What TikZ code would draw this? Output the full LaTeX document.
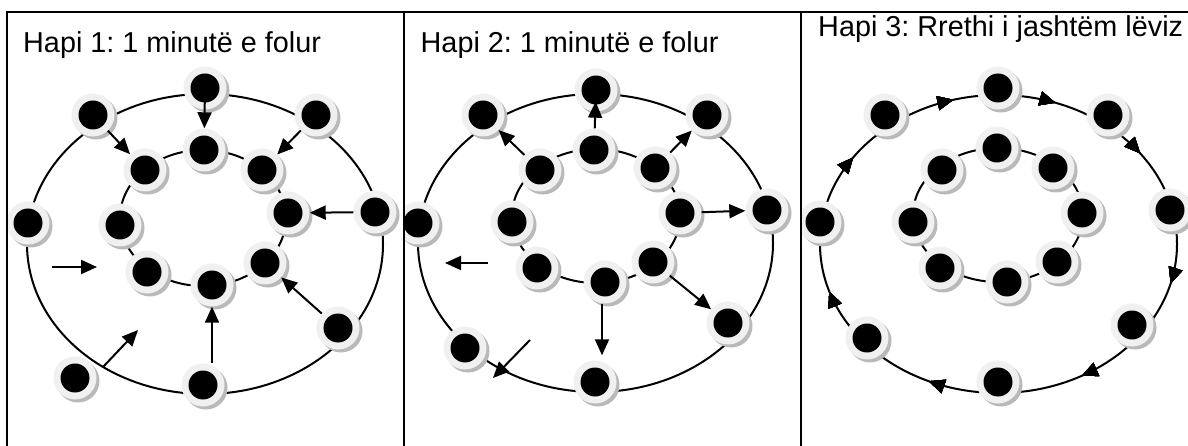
\documentclass[tikz,border=0pt]{standalone}
\usepackage{fontspec}
\setmainfont{Liberation Sans}
\frenchspacing
\usetikzlibrary{arrows.meta,shadows,decorations.markings}
\tikzset{
  dot/.style={circle, minimum size=43pt, inner sep=0pt, fill=gray!12,
    drop shadow={shadow xshift=3pt, shadow yshift=-3pt, fill=gray!55, opacity=1},
    path picture={\fill[black] (path picture bounding box.center) circle (14.5pt);}},
  orbit/.style={line width=2pt},
  arr/.style={line width=2pt, -{Triangle[length=16pt,width=14pt]}},
  title/.style={anchor=base west, inner sep=0pt, font=\fontsize{28.8}{34}\selectfont},
  frame/.style={line width=2.4pt},
  tip/.style={decoration={markings,
    mark=at position #1 with {\arrow{Triangle[length=16pt,width=14pt]}}}, postaction={decorate}}
}
\begin{document}
\begin{tikzpicture}[x=1pt,y=-1pt]
\useasboundingbox (0,0) rectangle (1188,446);
\fill[white] (0,0) rectangle (1188,446);

% ---------- Panel 1 ----------
\node[title] (t1) at (23,52.5) {Hapi 1: 1 minutë e folur};
\draw[orbit] (205,244) ellipse [x radius=178, y radius=150];
\draw[orbit] (203,218) ellipse [x radius=83, y radius=68];
\node[dot] (o1) at (93,115) {};
\node[dot] (o2) at (205,88) {};
\node[dot] (o3) at (316,115) {};
\node[dot] (o4) at (375,212) {};
\node[dot] (o5) at (28,223) {};
\node[dot] (o6) at (338,328) {};
\node[dot] (o7) at (203,385) {};
\node[dot] (o8) at (75,378) {};
\node[dot] (i1) at (145,170) {};
\node[dot] (i2) at (204,150) {};
\node[dot] (i3) at (262,170) {};
\node[dot] (i4) at (288,213) {};
\node[dot] (i5) at (120,225) {};
\node[dot] (i6) at (147,272) {};
\node[dot] (i7) at (212,285) {};
\node[dot] (i8) at (265,263) {};
\draw[arr, shorten <=-8pt] (o2) -- (i2);
\draw[arr] (o1) -- (i1);
\draw[arr] (o3) -- (i3);
\draw[arr] (o4) -- (i4);
\draw[arr] (o6) -- (i8);
\draw[arr] (i7 |- o7.north) -- (i7.south);
\coordinate (fa1) at (52,267); \coordinate (fb1) at (97,267);
\coordinate (fc1) at (103,367); \coordinate (fd1) at (138,330);
\draw[arr] (fa1) -- (fb1);
\draw[arr] (fc1) -- (fd1);

% ---------- Panel 2 ----------
\begin{scope}
\clip (404,0) rectangle (801,446);
\node[title] (t2) at (420.5,52.5) {Hapi 2: 1 minutë e folur};
\draw[orbit] (595.5,243) ellipse [x radius=177.5, y radius=149];
\draw[orbit] (596,216) ellipse [x radius=84, y radius=67];
\node[dot] (p1) at (483,115) {};
\node[dot] (p2) at (596,90) {};
\node[dot] (p3) at (707,115) {};
\node[dot] (p4) at (767,210) {};
\node[dot] (p5) at (418,223) {};
\node[dot] (p6) at (728,323) {};
\node[dot] (p7) at (595,382) {};
\node[dot] (p8) at (465,348) {};
\node[dot] (q1) at (540,170) {};
\node[dot] (q2) at (594,150) {};
\node[dot] (q3) at (655,168) {};
\node[dot] (q4) at (680,213) {};
\node[dot] (q5) at (512,222) {};
\node[dot] (q6) at (537,268) {};
\node[dot] (q7) at (605,282) {};
\node[dot] (q8) at (653,262) {};
\draw[arr, shorten >=-10pt] (q2) -- (p2);
\draw[arr] (q1) -- (p1);
\draw[arr] (q3) -- (p3);
\draw[arr] (q4) -- (p4);
\draw[arr] (q8) -- (p6);
\draw[arr, shorten >=5pt] ([xshift=-3pt]q7.south) -- ([xshift=-3pt]q7 |- p7.north);
\coordinate (fa2) at (488,263); \coordinate (fb2) at (445,263);
\coordinate (fc2) at (530,340); \coordinate (fd2) at (493,378);
\draw[arr] (fa2) -- (fb2);
\draw[arr] (fc2) -- (fd2);
\end{scope}

% ---------- Panel 3 ----------
\begin{scope}
\clip (801,0) rectangle (1188,446);
\node[title] (t3) at (818,37) {Hapi 3: Rrethi i jashtëm lëviz};
\draw[orbit, tip=0.039, tip=0.167, tip=0.319, tip=0.453, tip=0.592, tip=0.706, tip=0.806, tip=0.903]
  (998.5,244) ellipse [x radius=178.5, y radius=149];
\draw[orbit] (998,215) ellipse [x radius=85, y radius=67];
\node[dot] (r1) at (885,115) {};
\node[dot] (r2) at (998,88) {};
\node[dot] (r3) at (1108,115) {};
\node[dot] (r4) at (1170,210) {};
\node[dot] (r5) at (820,222) {};
\node[dot] (r6) at (1132,325) {};
\node[dot] (r7) at (998,382) {};
\node[dot] (r8) at (867,338) {};
\node[dot] (s1) at (942,170) {};
\node[dot] (s2) at (997,148) {};
\node[dot] (s3) at (1053,168) {};
\node[dot] (s4) at (1082,213) {};
\node[dot] (s5) at (913,222) {};
\node[dot] (s6) at (940,268) {};
\node[dot] (s7) at (1007,282) {};
\node[dot] (s8) at (1057,262) {};
\end{scope}

% ---------- Frame ----------
\draw[frame] (7,446) -- (7,12) -- (1188,12);
\draw[frame] (404,12) -- (404,446);
\draw[frame] (801,12) -- (801,446);
\end{tikzpicture}
\end{document}
